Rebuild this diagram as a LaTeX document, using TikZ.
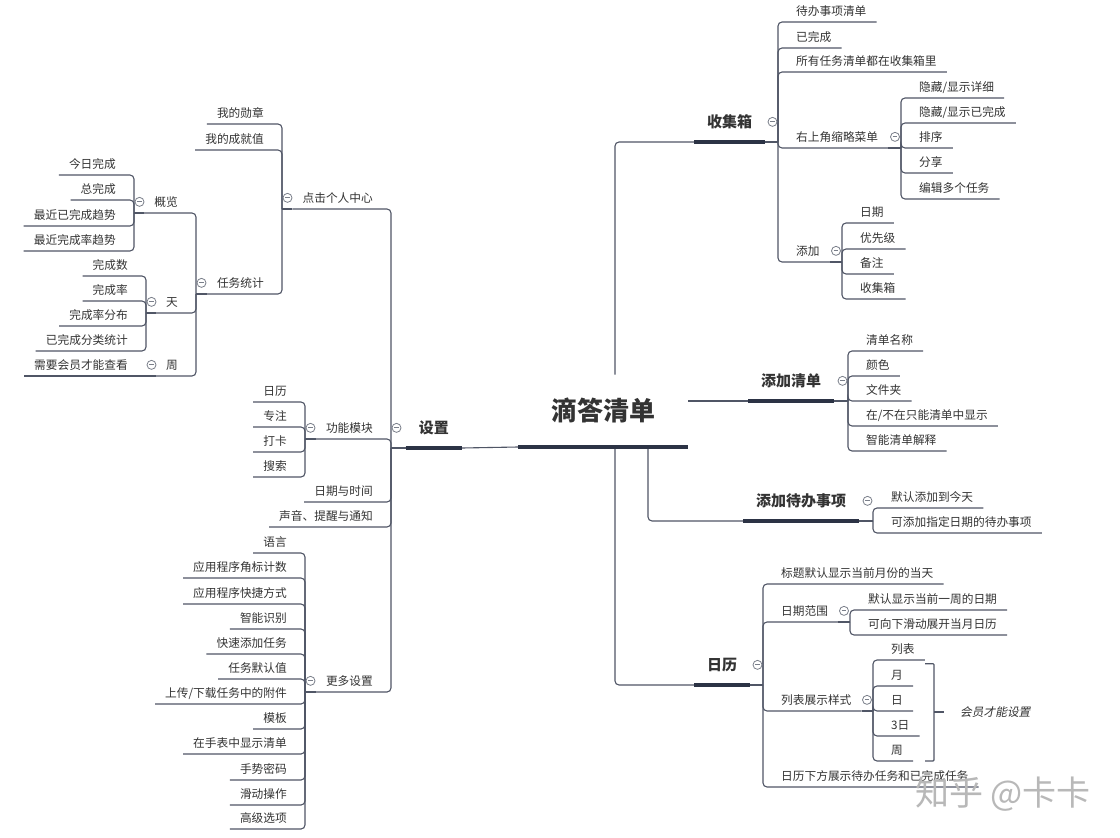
\documentclass[tikz,border=0pt]{standalone}
\usepackage{fontspec}
\setmainfont{Noto Sans CJK SC}
\newfontfamily\cjkit{Noto Sans CJK SC}[FakeSlant=0.2]
\usetikzlibrary{positioning}
\definecolor{txt}{HTML}{333333}
\definecolor{wire}{HTML}{505666}
\definecolor{bar}{HTML}{2C3345}
\definecolor{knob}{HTML}{7A7F8A}

\begin{document}
\begin{tikzpicture}[
    x=1pt, y=-1pt,
    item/.style={font=\fontsize{11.7}{14}\selectfont, text=txt, inner xsep=10pt, inner ysep=5.7pt, text height=9.7pt, text depth=0.8pt},
    topic/.style={font=\fontsize{15}{18}\selectfont\bfseries, text=txt, inner xsep=13pt, inner ysep=13.2pt, text height=12.5pt, text depth=1pt},
    root/.style={font=\fontsize{26}{30}\selectfont\bfseries, text=txt, minimum width=170pt, minimum height=72pt, inner sep=0pt, text height=21.5pt, text depth=1.9pt},
    link/.style={draw=wire, line width=1.1pt, rounded corners=4pt},
    thickbar/.style={draw=bar, line width=3.6pt},
    fold/.style={circle, draw=knob, fill=white, line width=0.8pt, minimum size=9pt, inner sep=0pt,
        path picture={\draw[knob, line width=0.8pt] ([xshift=-2.4pt]path picture bounding box.center) -- ([xshift=2.4pt]path picture bounding box.center);}},
    vip/.style={font=\cjkit\fontsize{11.7}{14}\selectfont, text=txt, inner xsep=16pt, inner ysep=2pt}
]

% Canvas
\fill[white] (0,0) rectangle (1120,838);
\useasboundingbox (0,0) rectangle (1120,838);

% Root
\node[root, anchor=south] (root) at (603,447) {滴答清单};

% ---------------- Right side ----------------
% Inbox
\node[topic, anchor=south west] (inbox) at (694,142) {收集箱};
\coordinate (inbox-j) at (778,142);
\node[item, anchor=south west] (todo) at (786,22) {待办事项清单};
\node[item, anchor=south west] (done) at (786,48) {已完成};
\node[item, anchor=south west] (allin) at (786,72) {所有任务清单都在收集箱里};
\node[item, anchor=south west] (menu) at (786,148) {右上角缩略菜单};
\coordinate (menu-j) at (901,148);
\node[item, anchor=south west] (hdetail) at (909,98) {隐藏/显示详细};
\node[item, anchor=south west] (hdone) at (909,123) {隐藏/显示已完成};
\node[item, anchor=south west] (sort) at (909,148) {排序};
\node[item, anchor=south west] (share) at (909,173) {分享};
\node[item, anchor=south west] (multi) at (909,199) {编辑多个任务};
\node[item, anchor=south west] (add) at (786,262) {添加};
\coordinate (add-j) at (842,262);
\node[item, anchor=south west] (adate) at (850,223) {日期};
\node[item, anchor=south west] (aprio) at (850,249) {优先级};
\node[item, anchor=south west] (anote) at (850,274) {备注};
\node[item, anchor=south west] (abox) at (850,299) {收集箱};

% Add list
\node[topic, anchor=south west] (addlist) at (748,401) {添加清单};
\coordinate (addlist-j) at (848,401);
\node[item, anchor=south west] (lname) at (856,351) {清单名称};
\node[item, anchor=south west] (lcolor) at (856,376) {颜色};
\node[item, anchor=south west] (lfolder) at (856,401) {文件夹};
\node[item, anchor=south west] (lshow) at (856,426) {在/不在只能清单中显示};
\node[item, anchor=south west] (lsmart) at (856,451) {智能清单解释};

% Add task
\node[topic, anchor=south west] (addtask) at (743,521) {添加待办事项};
\coordinate (addtask-j) at (873,521);
\node[item, anchor=south west] (tdefault) at (881,508) {默认添加到今天};
\node[item, anchor=south west] (tdate) at (881,533) {可添加指定日期的待办事项};

% Calendar
\node[topic, anchor=south west] (cal) at (694,685) {日历};
\coordinate (cal-j) at (763,685);
\node[item, anchor=south west] (ctitle) at (771,584) {标题默认显示当前月份的当天};
\node[item, anchor=south west] (crange) at (771,622) {日期范围};
\coordinate (crange-j) at (850,622);
\node[item, anchor=south west] (rweek) at (858,610) {默认显示当前一周的日期};
\node[item, anchor=south west] (rmonth) at (858,635) {可向下滑动展开当月日历};
\node[item, anchor=south west] (cstyle) at (771,711) {列表展示样式};
\coordinate (cstyle-j) at (873,711);
\node[item, anchor=south west] (slist) at (881,660) {列表};
\node[item, anchor=south west] (smonth) at (881,686) {月};
\node[item, anchor=south west] (sday) at (881,711) {日};
\node[item, anchor=south west] (s3day) at (881,736) {3日};
\node[item, anchor=south west] (sweek) at (881,761) {周};
\node[item, anchor=south west] (cbottom) at (771,787) {日历下方展示待办任务和已完成任务};
\coordinate (brk) at (934,712);
\node[vip, anchor=west] (vipnote) at (944,712) {会员才能设置};

% ---------------- Left side ----------------
\node[topic, anchor=south east] (settings) at (462,448) {设置};
\coordinate (settings-j) at (391,448);

% Profile
\node[item, anchor=south east] (profile) at (383,209) {点击个人中心};
\coordinate (profile-j) at (282,209);
\node[item, anchor=south east] (medal) at (274,124) {我的勋章};
\node[item, anchor=south east] (score) at (274,150) {我的成就值};
\node[item, anchor=south east] (stats) at (274,294) {任务统计};
\coordinate (stats-j) at (196,294);
\node[item, anchor=south east] (overview) at (188,213) {概览};
\coordinate (overview-j) at (134,213);
\node[item, anchor=south east] (today) at (126,175) {今日完成};
\node[item, anchor=south east] (total) at (126,200) {总完成};
\node[item, anchor=south east] (trenddone) at (126,226) {最近已完成趋势};
\node[item, anchor=south east] (trendrate) at (126,251) {最近完成率趋势};
\node[item, anchor=south east] (day) at (188,313) {天};
\coordinate (day-j) at (146,313);
\node[item, anchor=south east] (dcount) at (138,276) {完成数};
\node[item, anchor=south east] (drate) at (138,301) {完成率};
\node[item, anchor=south east] (ddist) at (138,326) {完成率分布};
\node[item, anchor=south east] (dcat) at (138,351) {已完成分类统计};
\node[item, anchor=south east] (week) at (188,376) {周};
\coordinate (week-j) at (146,376);
\node[item, anchor=south east] (weekvip) at (138,376) {需要会员才能查看};

% Modules
\node[item, anchor=south east] (modules) at (383,439) {功能模块};
\coordinate (modules-j) at (305,439);
\node[item, anchor=south east] (mcal) at (297,402) {日历};
\node[item, anchor=south east] (mfocus) at (297,427) {专注};
\node[item, anchor=south east] (mcheck) at (297,452) {打卡};
\node[item, anchor=south east] (msearch) at (297,477) {搜索};
\node[item, anchor=south east] (datetime) at (383,502) {日期与时间};
\node[item, anchor=south east] (sound) at (383,527) {声音、提醒与通知};

% More settings
\node[item, anchor=south east] (more) at (383,692) {更多设置};
\coordinate (more-j) at (305,692);
\node[item, anchor=south east] (lang) at (297,553) {语言};
\node[item, anchor=south east] (badge) at (297,578) {应用程序角标计数};
\node[item, anchor=south east] (shortcut) at (297,604) {应用程序快捷方式};
\node[item, anchor=south east] (smart) at (297,629) {智能识别};
\node[item, anchor=south east] (quick) at (297,654) {快速添加任务};
\node[item, anchor=south east] (defaults) at (297,679) {任务默认值};
\node[item, anchor=south east] (attach) at (297,704) {上传/下载任务中的附件};
\node[item, anchor=south east] (templ) at (297,729) {模板};
\node[item, anchor=south east] (watch) at (297,754) {在手表中显示清单};
\node[item, anchor=south east] (gesture) at (297,780) {手势密码};
\node[item, anchor=south east] (swipe) at (297,805) {滑动操作};
\node[item, anchor=south east] (adv) at (297,829) {高级选项};

% ---------------- Connectors ----------------
% root to main topics
\draw[link] ([xshift=12pt]root.north) |- (inbox.south west);
\draw[link] (root.east |- addlist.south) -- (addlist.south west);
\draw[link] ([xshift=45pt]root.south) |- (addtask.south west);
\draw[link] ([xshift=12pt]root.south) |- (cal.south west);
\draw[link] (root.south west) -- (settings.south east);

% right side
\draw[link] (inbox.south east) -- (inbox-j);
\foreach \c in {todo,done,allin,menu,add} \draw[link] (inbox-j) |- (\c.south east);
\draw[link] (menu.south east) -- (menu-j);
\foreach \c in {hdetail,hdone,sort,share,multi} \draw[link] (menu-j) |- (\c.south east);
\draw[link] (add.south east) -- (add-j);
\foreach \c in {adate,aprio,anote,abox} \draw[link] (add-j) |- (\c.south east);
\draw[link] (addlist.south east) -- (addlist-j);
\foreach \c in {lname,lcolor,lfolder,lshow,lsmart} \draw[link] (addlist-j) |- (\c.south east);
\draw[link] (addtask.south east) -- (addtask-j);
\foreach \c in {tdefault,tdate} \draw[link] (addtask-j) |- (\c.south east);
\draw[link] (cal.south east) -- (cal-j);
\foreach \c in {ctitle,crange,cstyle,cbottom} \draw[link] (cal-j) |- (\c.south east);
\draw[link] (crange.south east) -- (crange-j);
\foreach \c in {rweek,rmonth} \draw[link] (crange-j) |- (\c.south east);
\draw[link] (cstyle.south east) -- (cstyle-j);
\foreach \c in {slist,smonth,sday,s3day,sweek} \draw[link] (cstyle-j) |- (\c.south east);

% summary bracket
\draw[link, rounded corners=1pt] ([xshift=12pt]smonth.north east) -| (brk) |- ([xshift=12pt]sweek.south east);
\draw[link] (brk) -- (vipnote.west);

% left side
\foreach \c in {profile,modules,datetime,sound,more} \draw[link] (settings-j) |- (\c.south west);
\draw[link] (settings.south west) -- (settings-j);
\draw[link] (profile.south west) -- (profile-j);
\foreach \c in {medal,score,stats} \draw[link] (profile-j) |- (\c.south west);
\draw[link] (stats.south west) -- (stats-j);
\foreach \c in {overview,day,week} \draw[link] (stats-j) |- (\c.south west);
\draw[link] (overview.south west) -- (overview-j);
\foreach \c in {today,total,trenddone,trendrate} \draw[link] (overview-j) |- (\c.south west);
\draw[link] (day.south west) -- (day-j);
\foreach \c in {dcount,drate,ddist,dcat} \draw[link] (day-j) |- (\c.south west);
\draw[link] (week.south west) -- (week-j) -- (weekvip.south west);
\draw[link] (modules.south west) -- (modules-j);
\foreach \c in {mcal,mfocus,mcheck,msearch} \draw[link] (modules-j) |- (\c.south west);
\draw[link] (more.south west) -- (more-j);
\foreach \c in {lang,badge,shortcut,smart,quick,defaults,attach,templ,watch,gesture,swipe,adv}
    \draw[link] (more-j) |- (\c.south west);

% thick bars under root and main topics
\foreach \n in {root,inbox,addlist,addtask,cal,settings}
    \draw[thickbar] (\n.south west) -- (\n.south east);

% fold knobs
\foreach \p/\d in {inbox/-5.5,menu/-6,add/-6,addlist/-5.5,addtask/-5.5,cal/-5.5,crange/-6,cstyle/-6,
                   settings/5.5,profile/5.5,stats/5.5,overview/5.5,day/5.5,week/5.5,modules/5.5,more/5.5}
    \node[fold] (\p-f) at ([xshift=\d pt]\p-j |- \p.center) {};

% watermark
\node[font=\fontsize{34}{38}\selectfont, text=black!28] (wm) at (1003,794) {知乎 @卡卡};

\end{tikzpicture}
\end{document}
